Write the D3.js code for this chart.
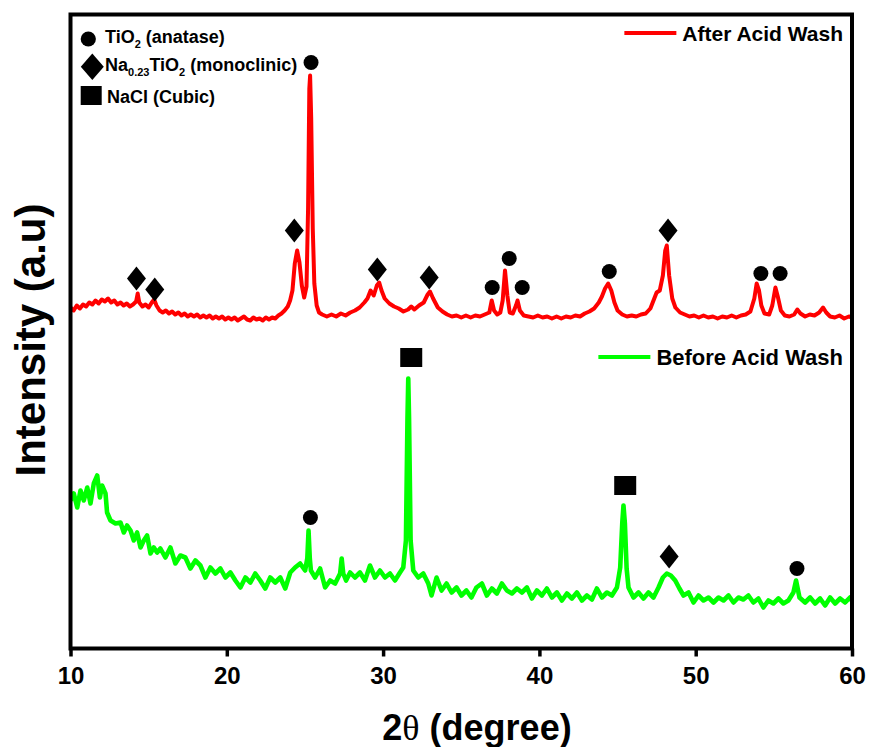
<!DOCTYPE html>
<html lang="en">
<head>
<meta charset="UTF-8">
<title>XRD - acid wash</title>
<script src="https://d3js.org/d3.v7.min.js"></script>
<style>
  body { margin: 0; background: #fff; }
  text { font-family: "Liberation Sans", Arial, sans-serif; font-weight: bold; fill: #000; }
</style>
</head>
<body>
<div id="chart"></div>
<script>
// ---- data (2theta in degree, intensity in a.u.) ----
const xTicks = [10, 20, 30, 40, 50, 60];

const afterWash = [
  [10.0,341],[10.2,338],[10.4,343],[10.6,340],[10.8,344],[11.0,342],[11.2,346],[11.4,344],[11.6,348],[11.8,345],
  [12.0,349],[12.2,347],[12.4,350],[12.6,346],[12.8,348],[13.0,344],[13.2,346],[13.4,343],[13.6,345],[13.8,342],
  [14.0,344],[14.2,347],[14.3,355],[14.4,346],[14.6,342],[14.8,344],[15.0,341],[15.2,346],[15.35,349],[15.5,343],
  [15.7,338],[15.9,336],[16.1,338],[16.3,335],[16.5,337],[16.7,334],[16.9,336],[17.1,333],[17.3,335],[17.5,332],
  [17.7,334],[17.9,332],[18.1,334],[18.3,331],[18.5,333],[18.7,331],[18.9,333],[19.1,330],[19.3,332],[19.5,330],
  [19.7,332],[19.9,329],[20.1,331],[20.3,329],[20.5,331],[20.7,328],[20.9,330],[21.1,332],[21.3,329],[21.5,328],
  [21.7,331],[21.9,329],[22.1,330],[22.3,328],[22.5,331],[22.7,329],[22.9,331],[23.1,330],[23.3,333],[23.5,335],
  [23.7,338],[23.9,342],[24.05,348],[24.2,358],[24.35,385],[24.5,398],[24.65,386],[24.8,363],[24.95,351],[25.1,362],
  [25.2,440],[25.28,560],[25.33,573],[25.4,530],[25.5,420],[25.6,365],[25.75,343],[25.9,336],[26.1,334],[26.4,332],
  [26.7,334],[27.0,332],[27.3,335],[27.6,333],[27.9,336],[28.2,338],[28.5,341],[28.8,346],[29.0,350],[29.2,358],
  [29.4,353],[29.6,363],[29.75,366],[29.9,358],[30.1,350],[30.4,345],[30.7,342],[31.0,340],[31.3,337],[31.6,339],
  [31.8,342],[32.0,339],[32.3,343],[32.6,346],[32.85,354],[33.0,357],[33.2,350],[33.5,341],[33.8,337],[34.1,334],
  [34.4,332],[34.7,333],[35.0,331],[35.3,333],[35.6,331],[35.9,333],[36.2,332],[36.5,334],[36.8,336],[36.95,348],
  [37.1,338],[37.3,334],[37.5,336],[37.65,348],[37.8,378],[37.95,353],[38.1,336],[38.3,335],[38.5,343],[38.6,348],
  [38.75,338],[39.0,333],[39.3,332],[39.6,331],[39.9,333],[40.2,331],[40.5,332],[40.8,330],[41.1,332],[41.4,330],
  [41.7,332],[42.0,331],[42.3,333],[42.6,332],[42.9,335],[43.2,337],[43.5,340],[43.8,346],[44.0,352],[44.2,360],
  [44.4,365],[44.6,358],[44.8,346],[45.0,338],[45.3,334],[45.6,332],[45.9,333],[46.2,332],[46.5,334],[46.8,335],
  [47.1,340],[47.3,348],[47.5,356],[47.7,358],[47.9,373],[48.05,398],[48.15,403],[48.3,373],[48.5,350],[48.7,341],
  [49.0,336],[49.3,334],[49.6,332],[49.9,333],[50.2,331],[50.5,333],[50.8,331],[51.1,332],[51.4,330],[51.7,332],
  [52.0,331],[52.3,333],[52.6,331],[52.9,333],[53.2,334],[53.5,337],[53.75,350],[53.9,365],[54.05,358],[54.2,343],
  [54.4,335],[54.7,334],[54.9,343],[55.1,361],[55.25,352],[55.45,338],[55.7,333],[56.0,332],[56.3,334],[56.5,339],
  [56.7,335],[57.0,332],[57.3,334],[57.6,333],[57.9,336],[58.15,341],[58.35,336],[58.6,332],[58.9,331],[59.2,333],
  [59.5,330],[59.8,332],[60.0,331]
];

const beforeWash = [
  [10.00,148],[10.21,155],[10.43,141],[10.64,158],[10.85,148],[11.07,161],[11.28,145],[11.49,165],[11.71,173],[11.88,151],
  [12.02,163],[12.24,155],[12.34,136],[12.56,128],[12.88,125],[13.20,126],[13.41,116],[13.62,123],[13.84,118],[14.05,108],
  [14.26,116],[14.48,101],[14.69,108],[14.90,113],[15.12,95],[15.33,101],[15.54,96],[15.75,100],[16.07,91],[16.39,101],
  [16.71,85],[17.03,93],[17.35,91],[17.67,80],[17.99,88],[18.31,83],[18.63,71],[18.95,81],[19.27,75],[19.59,80],
  [19.91,71],[20.23,76],[20.55,68],[20.87,61],[21.19,71],[21.51,66],[21.82,75],[22.14,68],[22.46,60],[22.78,71],
  [23.10,66],[23.42,71],[23.74,60],[24.06,76],[24.37,81],[24.69,85],[25.01,78],[25.15,90],[25.23,118],[25.31,90],
  [25.38,78],[25.65,71],[25.97,80],[26.29,61],[26.61,68],[26.93,65],[27.25,75],[27.35,90],[27.45,75],[27.63,68],
  [27.89,76],[28.20,71],[28.52,76],[28.84,68],[29.16,83],[29.48,71],[29.80,78],[30.12,71],[30.44,75],[30.76,68],
  [31.08,76],[31.29,81],[31.46,108],[31.56,230],[31.61,270],[31.66,230],[31.76,108],[31.93,78],[32.25,71],[32.57,75],
  [32.89,65],[33.10,53],[33.42,71],[33.74,58],[34.06,65],[34.38,56],[34.70,61],[35.01,53],[35.33,58],[35.65,51],
  [35.97,61],[36.32,65],[36.64,53],[36.96,60],[37.28,55],[37.60,65],[37.92,58],[38.24,55],[38.56,60],[38.88,56],
  [39.20,61],[39.52,50],[39.84,58],[40.16,53],[40.48,60],[40.80,51],[41.12,56],[41.44,48],[41.76,55],[42.08,50],
  [42.40,56],[42.72,48],[43.04,53],[43.36,49],[43.68,60],[44.00,51],[44.32,56],[44.64,53],[44.96,61],[45.17,81],
  [45.30,125],[45.38,143],[45.47,125],[45.58,80],[45.70,61],[46.02,51],[46.34,56],[46.66,50],[46.98,56],[47.30,51],
  [47.62,61],[47.90,71],[48.15,75],[48.41,73],[48.69,68],[48.96,60],[49.22,53],[49.54,56],[49.86,46],[50.18,53],
  [50.50,48],[50.82,51],[51.14,46],[51.46,51],[51.78,48],[52.10,53],[52.42,46],[52.73,51],[53.05,49],[53.37,53],
  [53.69,46],[54.01,50],[54.33,41],[54.65,48],[54.97,45],[55.29,50],[55.61,45],[55.93,48],[56.25,56],[56.42,68],
  [56.64,51],[57.00,46],[57.32,51],[57.64,45],[57.96,50],[58.28,43],[58.60,51],[58.92,45],[59.24,50],[59.56,46],
  [59.87,51],[60.00,48]
];

// phase markers [2theta, intensity]
const anatasePeaks = [[25.39,586],[36.98,361],[38.07,390],[38.9,361],[44.47,377],[54.17,375],[55.4,375],[25.35,131],[56.48,80]];
const monoclinicPeaks = [[14.22,370],[15.39,359],[24.32,418],[29.63,379],[32.95,371],[48.23,418],[48.3,92]];
const naclPeaks = [[31.8,291],[45.49,163]];

const seriesNames = ["After Acid Wash", "Before Acid Wash"];

// ---- layout ----
const W = 869, H = 747;
const svg = d3.select("#chart").append("svg")
  .attr("width", W).attr("height", H);

const x = d3.scaleLinear().domain([10, 60]).range([70.5, 852]);
const y = d3.scaleLinear().domain([0, 634]).range([648.5, 14.5]);

svg.append("clipPath").attr("id", "clip")
  .append("rect").attr("x", x(10)).attr("y", y(634)).attr("width", x(60) - x(10)).attr("height", y(0) - y(634));

const line = d3.line().x(d => x(d[0])).y(d => y(d[1]));

const plot = svg.append("g").attr("clip-path", "url(#clip)");
plot.append("path").datum(beforeWash)
  .attr("d", line).attr("fill", "none")
  .attr("stroke", "#00ff00").attr("stroke-width", 4.6).attr("stroke-linejoin", "round");
plot.append("path").datum(afterWash)
  .attr("d", line).attr("fill", "none")
  .attr("stroke", "#ff0000").attr("stroke-width", 4).attr("stroke-linejoin", "round");

// marker shapes
function diamond(cx, cy, hw, hh) {
  return `M${cx},${cy - hh}L${cx + hw},${cy}L${cx},${cy + hh}L${cx - hw},${cy}Z`;
}

svg.selectAll(".anatase").data(anatasePeaks).enter().append("circle")
  .attr("cx", d => x(d[0])).attr("cy", d => y(d[1])).attr("r", 7.5).attr("fill", "#000");
svg.selectAll(".mono").data(monoclinicPeaks).enter().append("path")
  .attr("d", d => diamond(x(d[0]), y(d[1]), 9.5, 12)).attr("fill", "#000");
svg.selectAll(".nacl").data(naclPeaks).enter().append("rect")
  .attr("x", d => x(d[0]) - 11).attr("y", d => y(d[1]) - 9.5)
  .attr("width", 22).attr("height", 19).attr("fill", "#000");

// frame
svg.append("rect")
  .attr("x", x(10)).attr("y", y(634))
  .attr("width", x(60) - x(10)).attr("height", y(0) - y(634))
  .attr("fill", "none").attr("stroke", "#000").attr("stroke-width", 4);

// x axis
const xAxis = svg.append("g").attr("transform", `translate(0,${y(0)})`)
  .call(d3.axisBottom(x).tickValues(xTicks).tickSize(8).tickPadding(10).tickFormat(d3.format("d")));
xAxis.select(".domain").remove();
xAxis.selectAll(".tick line").attr("stroke", "#000").attr("stroke-width", 3.5);
xAxis.selectAll(".tick text")
  .style("font-family", '"Liberation Sans", Arial, sans-serif')
  .style("font-weight", "bold").style("font-size", "24px").attr("fill", "#000");

// axis titles
const xt = svg.append("text").attr("x", 477).attr("y", 740)
  .attr("text-anchor", "middle").style("font-size", "36px");
xt.append("tspan").text("2");
xt.append("tspan").text("\u03b8").style("font-family", '"Liberation Serif", "Times New Roman", serif').style("font-weight", "normal");
xt.append("tspan").text(" (degree)");

svg.append("text")
  .attr("transform", "translate(45,340) rotate(-90)")
  .attr("text-anchor", "middle").style("font-size", "42px")
  .text("Intensity (a.u)");

// series legend (top right)
const legendRows = [
  { name: seriesNames[0], color: "#ff0000", yPos: 33, base: 41, size: 21 },
  { name: seriesNames[1], color: "#00ff00", yPos: 357, base: 365, size: 22 }
];
legendRows.forEach(r => {
  const t = svg.append("text").attr("x", 843).attr("y", r.base)
    .attr("text-anchor", "end").style("font-size", r.size + "px").text(r.name);
  const tw = t.node().getComputedTextLength();
  svg.append("line")
    .attr("x1", 843 - tw - 58).attr("x2", 843 - tw - 6)
    .attr("y1", r.yPos).attr("y2", r.yPos)
    .attr("stroke", r.color).attr("stroke-width", 4);
});

// phase legend (top left)
svg.append("circle").attr("cx", 88.3).attr("cy", 39).attr("r", 7.6).attr("fill", "#000");
svg.append("path").attr("d", diamond(92.3, 66.7, 11.5, 13.3)).attr("fill", "#000");
svg.append("rect").attr("x", 80.7).attr("y", 86).attr("width", 21).attr("height", 19).attr("fill", "#000");

function phaseLabel(xp, yp, parts) {
  const t = svg.append("text").attr("x", xp).attr("y", yp).style("font-size", "18px");
  parts.forEach(p => {
    const s = t.append("tspan").text(p[0]);
    if (p[1]) s.style("font-size", "11px").attr("dy", 5);
    else if (p[2]) s.attr("dy", -5);
  });
}
phaseLabel(105, 43, [["TiO"], ["2", true], [" (anatase)", false, true]]);
phaseLabel(105, 71, [["Na"], ["0.23", true], ["TiO", false, true], ["2", true], [" (monoclinic)", false, true]]);
phaseLabel(107, 103, [["NaCl (Cubic)"]]);
</script>
</body>
</html>
